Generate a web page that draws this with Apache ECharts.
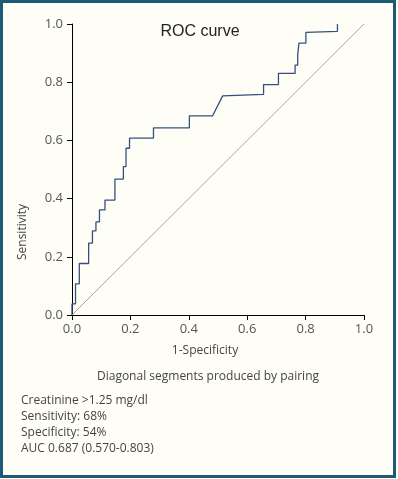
<!DOCTYPE html>
<html>
<head>
<meta charset="utf-8">
<script src="https://cdn.jsdelivr.net/npm/echarts@6/dist/echarts.min.js"></script>
<style>
  html, body { margin: 0; padding: 0; background: #ffffff; }
  #roc { width: 398px; height: 479px; }
</style>
</head>
<body>
<div id="roc"></div>
<script>
  // ROC curve (1-specificity, sensitivity)
  const fpr = [0, 0, 0.012, 0.012, 0.025, 0.025, 0.057, 0.057, 0.070, 0.070,
    0.082, 0.082, 0.094, 0.094, 0.113, 0.113, 0.147, 0.147, 0.176, 0.176,
    0.185, 0.185, 0.197, 0.197, 0.279, 0.279, 0.402, 0.402, 0.481, 0.516,
    0.656, 0.656, 0.707, 0.707, 0.764, 0.764, 0.773, 0.773, 0.777, 0.777,
    0.801, 0.801, 0.909, 0.909];
  const tpr = [0, 0.038, 0.038, 0.107, 0.107, 0.177, 0.177, 0.247, 0.247, 0.289,
    0.289, 0.320, 0.320, 0.361, 0.361, 0.395, 0.395, 0.467, 0.467, 0.510,
    0.510, 0.573, 0.573, 0.608, 0.608, 0.643, 0.643, 0.684, 0.684, 0.753,
    0.758, 0.792, 0.792, 0.830, 0.830, 0.859, 0.859, 0.893, 0.893, 0.934,
    0.934, 0.971, 0.975, 1.0];
  const diagonal = [[0, 0], [1, 1]];
  const tickLabels = ['0.0', '0.2', '0.4', '0.6', '0.8', '1.0'];
  const notes = [
    'Creatinine >1.25 mg/dl',
    'Sensitivity: 68%',
    'Specificity: 54%',
    'AUC 0.687 (0.570-0.803)'
  ];

  const font = 'Open Sans';
  const curve = fpr.map((x, i) => [x, tpr[i]]);
  const tickFmt = v => tickLabels[Math.round(v * 5)];

  const axisCommon = {
    type: 'value',
    min: 0,
    max: 1,
    interval: 0.2,
    splitLine: { show: false },
    axisLine: { lineStyle: { color: '#000', width: 1 } },
    axisTick: { show: true, length: 5, lineStyle: { color: '#000' } },
    axisLabel: {
      color: '#555',
      fontSize: 13,
      fontFamily: font,
      formatter: tickFmt
    }
  };

  const myChart = echarts.init(document.getElementById('roc'));
  myChart.setOption({
    animation: false,
    backgroundColor: '#fffef6',
    title: {
      text: 'ROC curve',
      left: 195,
      top: 19,
      textAlign: 'center',
      textStyle: {
        fontFamily: 'Liberation Sans',
        fontSize: 16,
        fontWeight: 'normal',
        color: '#222'
      }
    },
    grid: {
      left: 72,
      right: 34,
      top: 24,
      bottom: 164
    },
    xAxis: {
      ...axisCommon,
      axisLabel: { ...axisCommon.axisLabel, margin: 8 }
    },
    yAxis: {
      ...axisCommon,
      axisLabel: { ...axisCommon.axisLabel, margin: 9 }
    },
    series: [
      {
        type: 'line',
        data: diagonal,
        symbol: 'none',
        silent: true,
        lineStyle: { color: '#a8a8a8', width: 1 },
        z: 2
      },
      {
        type: 'line',
        data: curve,
        symbol: 'none',
        silent: true,
        lineStyle: { color: '#34517d', width: 1.3 },
        z: 3
      }
    ],
    graphic: [
      {
        type: 'rect',
        shape: { x: 1.5, y: 1.5, width: 393, height: 475 },
        style: { fill: null, stroke: '#1d5a78', lineWidth: 3 },
        z: 10
      },
      {
        type: 'text',
        x: 205,
        y: 351,
        style: {
          text: '1-Specificity',
          font: '12px "Open Sans"',
          fill: '#444',
          textAlign: 'center',
          textVerticalAlign: 'middle'
        }
      },
      {
        type: 'text',
        x: 23,
        y: 232,
        rotation: Math.PI / 2,
        style: {
          text: 'Sensitivity',
          font: '12px "Open Sans"',
          fill: '#444',
          textAlign: 'center',
          textVerticalAlign: 'middle'
        }
      },
      {
        type: 'text',
        x: 208,
        y: 377,
        style: {
          text: 'Diagonal segments produced by pairing',
          font: '12px "Open Sans"',
          fill: '#444',
          textAlign: 'center',
          textVerticalAlign: 'middle'
        }
      },
      {
        type: 'text',
        x: 21,
        y: 393,
        style: {
          text: notes.join('\n'),
          font: '12px "Open Sans"',
          lineHeight: 16,
          fill: '#444',
          textAlign: 'left',
          textVerticalAlign: 'top'
        }
      }
    ]
  });
</script>
</body>
</html>
